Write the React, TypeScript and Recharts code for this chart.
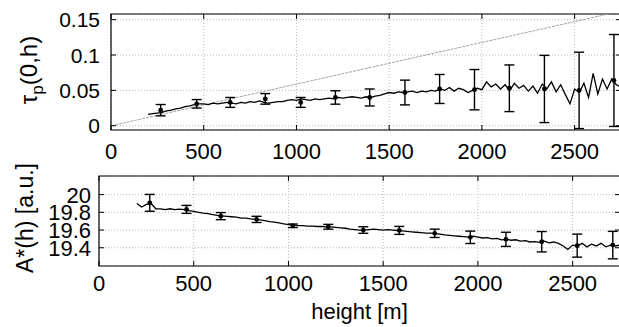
import React from 'react';
import { ComposedChart, Line, Scatter, ErrorBar, XAxis, YAxis, CartesianGrid, ReferenceArea } from 'recharts';

// ---- data ----
const LINE_HEIGHTS = [200, 225, 250, 275, 300, 325, 350, 375, 400, 425, 450, 475, 500, 525, 550, 575, 600, 625, 650, 675, 700, 725, 750, 775, 800, 825, 850, 875, 900, 925, 950, 975, 1000, 1025, 1050, 1075, 1100, 1125, 1150, 1175, 1200, 1225, 1250, 1275, 1300, 1325, 1350, 1375, 1400, 1425, 1450, 1475, 1500, 1525, 1550, 1575, 1600, 1625, 1650, 1675, 1700, 1725, 1750, 1775, 1800, 1825, 1850, 1875, 1900, 1925, 1950, 1975, 2000, 2025, 2050, 2075, 2100, 2125, 2150, 2175, 2200, 2225, 2250, 2275, 2300, 2325, 2350, 2375, 2400, 2425, 2450, 2475, 2500, 2525, 2550, 2575, 2600, 2625, 2650, 2675, 2700, 2725, 2750];

const TAU_LINE = [0.016, 0.017, 0.018, 0.019, 0.021, 0.022, 0.024, 0.025, 0.027, 0.028, 0.030, 0.031, 0.031, 0.030, 0.032, 0.031, 0.032, 0.033, 0.032, 0.031, 0.033, 0.032, 0.034, 0.033, 0.035, 0.033, 0.032, 0.033, 0.034, 0.034, 0.036, 0.037, 0.036, 0.038, 0.037, 0.036, 0.038, 0.037, 0.038, 0.039, 0.038, 0.040, 0.039, 0.040, 0.041, 0.040, 0.039, 0.041, 0.040, 0.042, 0.043, 0.045, 0.047, 0.046, 0.048, 0.047, 0.048, 0.049, 0.047, 0.049, 0.048, 0.050, 0.049, 0.052, 0.050, 0.054, 0.049, 0.053, 0.051, 0.047, 0.050, 0.053, 0.051, 0.062, 0.055, 0.059, 0.052, 0.058, 0.050, 0.060, 0.053, 0.057, 0.049, 0.056, 0.046, 0.059, 0.052, 0.062, 0.048, 0.058, 0.044, 0.031, 0.052, 0.047, 0.060, 0.040, 0.074, 0.045, 0.066, 0.052, 0.066, 0.058, 0.055];

const A_LINE = [19.90, 19.86, 19.89, 19.90, 19.84, 19.84, 19.83, 19.84, 19.83, 19.835, 19.83, 19.82, 19.81, 19.80, 19.79, 19.785, 19.775, 19.765, 19.76, 19.755, 19.75, 19.745, 19.735, 19.735, 19.725, 19.72, 19.715, 19.705, 19.695, 19.69, 19.68, 19.67, 19.66, 19.655, 19.65, 19.65, 19.645, 19.645, 19.64, 19.64, 19.635, 19.635, 19.63, 19.625, 19.62, 19.61, 19.605, 19.60, 19.60, 19.605, 19.61, 19.605, 19.60, 19.605, 19.60, 19.595, 19.59, 19.585, 19.58, 19.575, 19.57, 19.565, 19.565, 19.56, 19.555, 19.545, 19.54, 19.535, 19.53, 19.525, 19.52, 19.53, 19.52, 19.51, 19.515, 19.50, 19.505, 19.49, 19.495, 19.485, 19.49, 19.475, 19.48, 19.465, 19.47, 19.46, 19.475, 19.455, 19.465, 19.45, 19.42, 19.38, 19.43, 19.42, 19.45, 19.41, 19.44, 19.42, 19.45, 19.41, 19.43, 19.42, 19.43];

const BAR_HEIGHTS = [268, 462, 643, 832, 1023, 1210, 1395, 1585, 1772, 1960, 2148, 2337, 2524, 2712];
const TAU_MEAN = [0.022, 0.031, 0.033, 0.038, 0.033, 0.040, 0.040, 0.047, 0.052, 0.051, 0.053, 0.052, 0.050, 0.064];
const TAU_ERR = [0.008, 0.006, 0.007, 0.0075, 0.007, 0.0095, 0.012, 0.0175, 0.0205, 0.0285, 0.033, 0.0475, 0.054, 0.065];
const A_MEAN = [19.907, 19.833, 19.757, 19.72, 19.648, 19.637, 19.60, 19.596, 19.563, 19.518, 19.495, 19.468, 19.424, 19.43];
const A_ERR = [0.095, 0.045, 0.04, 0.035, 0.02, 0.027, 0.037, 0.045, 0.047, 0.07, 0.08, 0.115, 0.13, 0.155];

const REF_HEIGHTS = [0, 2750];
const REF_TAU = [0, 0.162];

const X_DOMAIN = [0, 2750];
const X_TICKS = [0, 500, 1000, 1500, 2000, 2500];
const X_TICK_LABELS = ['0', '500', '1000', '1500', '2000', '2500'];
const TAU_DOMAIN = [-0.006, 0.158];
const TAU_TICKS = [0, 0.05, 0.1, 0.15];
const TAU_TICK_LABELS = ['0', '0.05', '0.1', '0.15'];
const A_DOMAIN = [19.194, 20.21];
const A_TICKS = [19.4, 19.6, 19.8, 20];
const A_TICK_LABELS = ['19.4', '19.6', '19.8', '20'];

// ---- derived tables ----
const tauLine = LINE_HEIGHTS.map((x, i) => ({ x, v: TAU_LINE[i] }));
const aLine = LINE_HEIGHTS.map((x, i) => ({ x, v: A_LINE[i] }));
const tauBars = BAR_HEIGHTS.map((x, i) => ({ x, y: TAU_MEAN[i], e: TAU_ERR[i] }));
const aBars = BAR_HEIGHTS.map((x, i) => ({ x, y: A_MEAN[i], e: A_ERR[i] }));
const refLine = REF_HEIGHTS.map((x, i) => ({ x, v: REF_TAU[i] }));

const FONT = '"Liberation Sans", Arial, Helvetica, sans-serif';
const TICK_LEN = 5;

function labelFor(values: number[], labels: string[], v: number) {
  const i = values.findIndex((t) => Math.abs(t - v) < 1e-9);
  return i >= 0 ? labels[i] : String(v);
}

function makeXTick(plotTop: number, plotBottom: number, fontSize: number) {
  return (props: any) => {
    const { x, y, payload } = props;
    return (
      <g>
        <line x1={x} x2={x} y1={plotBottom} y2={plotBottom - TICK_LEN} stroke="#000" strokeWidth={1} />
        <line x1={x} x2={x} y1={plotTop} y2={plotTop + TICK_LEN} stroke="#000" strokeWidth={1} />
        <text x={x} y={y} dy="0.72em" textAnchor="middle" fontSize={fontSize} fontFamily={FONT} fill="#000">
          {labelFor(X_TICKS, X_TICK_LABELS, payload.value)}
        </text>
      </g>
    );
  };
}

function makeYTick(plotLeft: number, plotRight: number, fontSize: number, ticks: number[], labels: string[]) {
  return (props: any) => {
    const { x, y, payload } = props;
    return (
      <g>
        <line x1={plotLeft} x2={plotLeft + TICK_LEN} y1={y} y2={y} stroke="#000" strokeWidth={1} />
        <line x1={plotRight - TICK_LEN} x2={plotRight} y1={y} y2={y} stroke="#000" strokeWidth={1} />
        <text x={x} y={y} dy="0.36em" textAnchor="end" fontSize={fontSize} fontFamily={FONT} fill="#000">
          {labelFor(ticks, labels, payload.value)}
        </text>
      </g>
    );
  };
}

const TauLabel = () => (
  <text
    x={37}
    y={70}
    transform="rotate(-90, 37, 70)"
    textAnchor="middle"
    fontSize={24}
    fontFamily={FONT}
    fill="#000"
  >
    <tspan>τ</tspan>
    <tspan fontSize={17} dy={6}>p</tspan>
    <tspan dy={-6}>(0,h)</tspan>
  </text>
);

const ALabel = () => (
  <text
    x={33}
    y={58}
    transform="rotate(-90, 33, 58)"
    textAnchor="middle"
    fontSize={23}
    fontFamily={FONT}
    fill="#000"
  >
    A*(h) [a.u.]
  </text>
);

const Dot = (p: any) => <circle cx={p.cx} cy={p.cy} r={2.4} fill="#000" />;

export default function App() {
  const topTick = makeXTick(14, 130, 22);
  const botTick = makeXTick(16, 106, 22);
  return (
    <div
      style={{
        position: 'absolute',
        left: 0,
        top: 0,
        width: 619,
        height: 327,
        overflow: 'hidden',
        background: '#fff',
        fontFamily: FONT,
      }}
    >
      <div style={{ position: 'absolute', left: 0, top: 0 }}>
        <ComposedChart width={640} height={165} margin={{ top: 14, right: 19, bottom: 0, left: 0 }}>
          <CartesianGrid stroke="#b8b8b8" strokeDasharray="1 2" />
          <XAxis
            dataKey="x"
            type="number"
            domain={X_DOMAIN}
            ticks={X_TICKS}
            interval={0}
            allowDataOverflow
            height={35}
            tickSize={0}
            tickMargin={13}
            tickLine={false}
            axisLine={false}
            tick={topTick}
          />
          <YAxis
            type="number"
            domain={TAU_DOMAIN}
            ticks={TAU_TICKS}
            interval={0}
            allowDataOverflow
            width={111}
            tickSize={0}
            tickMargin={11}
            tickLine={false}
            axisLine={false}
            tick={makeYTick(111, 621, 21, TAU_TICKS, TAU_TICK_LABELS)}
            label={<TauLabel />}
          />
          <Line data={refLine} dataKey="v" stroke="#a4a4a4" strokeWidth={1} strokeDasharray="3 1" dot={false} isAnimationActive={false} />
          <Line data={tauLine} dataKey="v" stroke="#000" strokeWidth={1.3} dot={false} isAnimationActive={false} />
          <Scatter data={tauBars} dataKey="y" shape={Dot} isAnimationActive={false}>
            <ErrorBar dataKey="e" direction="y" width={5} stroke="#000" strokeWidth={1.4} isAnimationActive={false} />
          </Scatter>
          <ReferenceArea
            x1={X_DOMAIN[0]}
            x2={X_DOMAIN[1]}
            y1={TAU_DOMAIN[0]}
            y2={TAU_DOMAIN[1]}
            fill="none"
            fillOpacity={0}
            stroke="#000"
            strokeWidth={1.2}
            ifOverflow="visible"
          />
        </ComposedChart>
      </div>
      <div style={{ position: 'absolute', left: 0, top: 160 }}>
        <ComposedChart width={640} height={167} margin={{ top: 16, right: 20, bottom: 0, left: 0 }}>
          <CartesianGrid stroke="#b8b8b8" strokeDasharray="1 2" />
          <XAxis
            dataKey="x"
            type="number"
            domain={X_DOMAIN}
            ticks={X_TICKS}
            interval={0}
            allowDataOverflow
            height={61}
            tickSize={0}
            tickMargin={9}
            tickLine={false}
            axisLine={false}
            tick={botTick}
            label={{ value: 'height [m]', position: 'insideBottom', offset: 8, fontSize: 22, fill: '#000', fontFamily: FONT }}
          />
          <YAxis
            type="number"
            domain={A_DOMAIN}
            ticks={A_TICKS}
            interval={0}
            allowDataOverflow
            width={99}
            tickSize={0}
            tickMargin={8}
            tickLine={false}
            axisLine={false}
            tick={makeYTick(99, 620, 22, A_TICKS, A_TICK_LABELS)}
            label={<ALabel />}
          />
          <Line data={aLine} dataKey="v" stroke="#000" strokeWidth={1.3} dot={false} isAnimationActive={false} />
          <Scatter data={aBars} dataKey="y" shape={Dot} isAnimationActive={false}>
            <ErrorBar dataKey="e" direction="y" width={5} stroke="#000" strokeWidth={1.4} isAnimationActive={false} />
          </Scatter>
          <ReferenceArea
            x1={X_DOMAIN[0]}
            x2={X_DOMAIN[1]}
            y1={A_DOMAIN[0]}
            y2={A_DOMAIN[1]}
            fill="none"
            fillOpacity={0}
            stroke="#000"
            strokeWidth={1.2}
            ifOverflow="visible"
          />
        </ComposedChart>
      </div>
    </div>
  );
}
